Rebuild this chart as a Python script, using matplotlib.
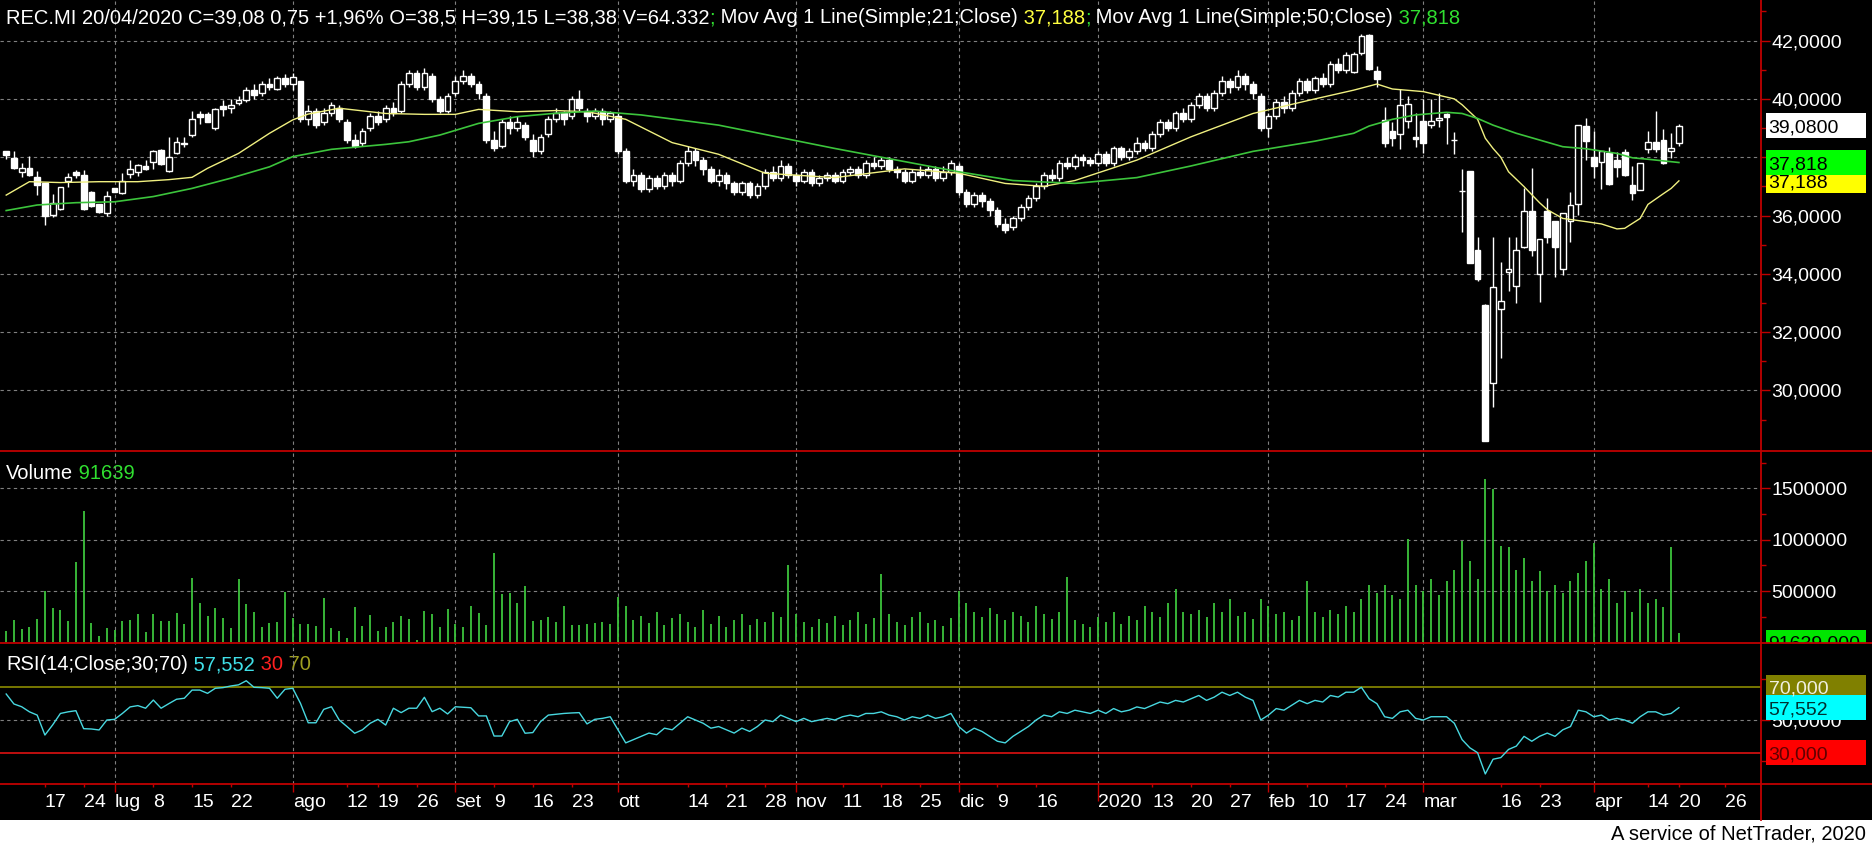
import numpy as np
import matplotlib
matplotlib.use('Agg')
import matplotlib.pyplot as plt
from matplotlib.patches import Rectangle
from matplotlib.lines import Line2D
from matplotlib.ticker import FixedLocator, FuncFormatter

plt.rcParams['font.family'] = ['Liberation Sans', 'DejaVu Sans']

# daily candles, REC.MI, 10/06/2019 .. 20/04/2020 (index = trading day)
opens = [38.2, 37.98, 37.5, 37.62, 37.31, 37.1, 36.02, 36.22, 37.18, 37.5,
         37.39, 36.8, 36.38, 36.08, 36.93, 36.78, 37.41, 37.5, 37.7, 37.83,
         38.25, 37.54, 38.13, 38.45, 38.76, 39.48, 39.48, 39.01, 39.76, 39.68,
         39.85, 39.95, 40.3, 40.2, 40.5, 40.35, 40.7, 40.5, 40.6, 39.3,
         39.6, 39.2, 39.5, 39.7, 39.2, 38.6, 38.5, 39.0, 39.4, 39.3,
         39.7, 39.6, 40.5, 40.9, 40.4, 40.8, 40.0, 39.6, 40.2, 40.6,
         40.8, 40.5, 40.1, 38.6, 38.4, 39.2, 39.0, 39.1, 38.6, 38.2,
         38.8, 39.3, 39.5, 39.4, 40.0, 39.6, 39.4, 39.6, 39.3, 39.4,
         38.2, 37.2, 37.4, 36.9, 37.3, 37.0, 37.4, 37.2, 37.8, 38.2,
         37.9, 37.6, 37.2, 37.4, 37.1, 36.8, 37.1, 36.7, 37.0, 37.5,
         37.3, 37.7, 37.4, 37.2, 37.5, 37.1, 37.3, 37.4, 37.2, 37.5,
         37.6, 37.4, 37.8, 37.7, 37.9, 37.6, 37.5, 37.2, 37.5, 37.4,
         37.6, 37.3, 37.5, 37.7, 36.8, 36.4, 36.7, 36.5, 36.2, 35.7,
         35.6, 35.9, 36.3, 36.6, 37.0, 37.4, 37.3, 37.8, 37.7, 38.0,
         37.9, 37.8, 38.1, 37.8, 38.3, 38.0, 38.2, 38.5, 38.3, 38.8,
         39.2, 39.0, 39.5, 39.3, 39.8, 40.1, 39.7, 40.2, 40.6, 40.4,
         40.8, 40.5, 40.1, 39.0, 39.4, 39.9, 39.7, 40.2, 40.6, 40.3,
         40.7, 40.5, 41.2, 41.0, 40.94, 41.56, 42.19, 40.97, 39.27, 38.9,
         38.78, 39.24, 38.69, 39.24, 39.12, 39.27, 39.47, 38.6, 36.83, 37.52,
         34.83, 32.93, 30.25, 32.78, 34.05, 33.59, 34.93, 36.14, 34.01, 36.15,
         35.81, 34.15, 35.82, 36.38, 39.07, 38.02, 37.82, 38.16, 37.9, 38.19,
         37.03, 36.86, 38.27, 38.51, 38.59, 38.21, 38.5]
highs = [38.22, 38.2, 37.79, 38.04, 37.53, 37.1, 36.74, 36.99, 37.45, 37.56,
         37.56, 36.85, 36.4, 36.84, 36.95, 37.45, 37.9, 37.75, 37.9, 38.25,
         38.27, 38.7, 38.7, 38.7, 39.6, 39.6, 39.55, 39.68, 39.95, 40.0,
         40.1, 40.4, 40.5, 40.6, 40.7, 40.8, 40.85, 40.9, 40.6, 39.8,
         39.7, 39.7, 39.9, 39.8, 39.3, 38.8, 39.0, 39.5, 39.6, 39.8,
         39.9, 40.6, 41.0, 41.0, 41.05, 40.9, 40.1, 40.2, 40.8, 41.0,
         40.9, 40.6, 40.2, 38.9, 39.3, 39.4, 39.4, 39.2, 38.8, 38.8,
         39.4, 39.7, 39.6, 40.1, 40.3, 39.7, 39.7, 39.7, 39.6, 39.5,
         38.3, 37.6, 37.5, 37.4, 37.4, 37.5, 37.5, 37.9, 38.4, 38.3,
         38.0, 37.7, 37.6, 37.5, 37.2, 37.2, 37.2, 37.1, 37.6, 37.7,
         37.9, 37.8, 37.5, 37.6, 37.6, 37.4, 37.5, 37.5, 37.6, 37.7,
         37.7, 37.9, 38.0, 38.0, 38.0, 37.7, 37.6, 37.6, 37.7, 37.7,
         37.7, 37.7, 37.9, 37.8, 36.9, 36.8, 36.8, 36.6, 36.3, 35.9,
         36.0, 36.4, 36.7, 37.1, 37.5, 37.6, 37.9, 38.0, 38.1, 38.1,
         38.0, 38.2, 38.2, 38.4, 38.4, 38.3, 38.7, 38.6, 38.9, 39.3,
         39.3, 39.6, 39.7, 39.9, 40.2, 40.2, 40.3, 40.8, 40.7, 41.0,
         40.9, 40.6, 40.2, 39.5, 40.0, 40.1, 40.3, 40.7, 40.7, 40.8,
         40.9, 41.3, 41.4, 41.6, 41.6, 42.23, 42.23, 41.13, 39.71, 39.22,
         40.34, 40.1, 39.52, 40.0, 40.0, 40.2, 39.52, 38.85, 37.6, 37.52,
         35.25, 32.95, 35.25, 34.39, 35.27, 35.25, 36.96, 37.64, 35.21, 36.59,
         35.81, 36.1, 36.79, 39.12, 39.34, 38.9, 38.21, 38.36, 38.19, 38.27,
         37.71, 37.79, 38.9, 39.58, 38.97, 38.82, 39.15]
lows = [37.95, 37.6, 37.31, 37.35, 36.7, 35.67, 35.95, 36.2, 36.99, 37.3,
        36.2, 36.3, 36.1, 35.98, 36.8, 36.75, 37.3, 37.35, 37.55, 37.6,
        37.74, 37.5, 38.1, 38.35, 38.7, 39.15, 39.2, 38.95, 39.4, 39.5,
        39.8, 39.9, 40.0, 40.1, 40.3, 40.3, 40.4, 40.3, 39.2, 39.1,
        39.0, 39.1, 39.4, 39.2, 38.5, 38.3, 38.4, 38.9, 39.1, 39.2,
        39.4, 39.5, 40.4, 40.3, 40.3, 39.9, 39.5, 39.5, 40.1, 40.5,
        40.4, 40.0, 38.5, 38.2, 38.3, 38.8, 38.9, 38.6, 38.0, 38.1,
        38.7, 39.2, 39.1, 39.3, 39.6, 39.2, 39.3, 39.1, 39.2, 38.1,
        37.1, 37.0, 36.8, 36.8, 36.9, 36.9, 37.0, 37.1, 37.7, 37.7,
        37.4, 37.1, 37.0, 36.9, 36.7, 36.7, 36.6, 36.6, 36.9, 37.2,
        37.2, 37.3, 37.0, 37.1, 37.0, 37.0, 37.2, 37.1, 37.1, 37.4,
        37.3, 37.3, 37.6, 37.6, 37.5, 37.3, 37.1, 37.1, 37.3, 37.3,
        37.2, 37.2, 37.4, 36.7, 36.3, 36.3, 36.3, 36.0, 35.6, 35.4,
        35.5, 35.8, 36.2, 36.5, 36.9, 37.2, 37.2, 37.6, 37.6, 37.7,
        37.7, 37.7, 37.7, 37.7, 37.9, 37.9, 38.1, 38.2, 38.2, 38.7,
        38.9, 38.9, 39.2, 39.2, 39.7, 39.6, 39.6, 40.1, 40.2, 40.3,
        40.3, 40.0, 38.9, 38.7, 39.3, 39.5, 39.6, 40.1, 40.2, 40.2,
        40.4, 40.4, 40.9, 40.9, 40.9, 41.5, 41.0, 40.42, 38.36, 38.38,
        38.28, 39.0, 38.36, 38.13, 39.0, 39.05, 38.44, 38.1, 35.44, 34.37,
        33.76, 28.28, 29.43, 31.12, 33.4, 33.0, 34.9, 34.6, 33.04, 35.04,
        33.88, 33.96, 35.1, 36.02, 37.9, 37.3, 36.9, 37.03, 37.33, 37.35,
        36.52, 36.86, 38.15, 38.19, 37.75, 37.96, 38.38]
closes = [38.06, 37.64, 37.62, 37.4, 37.05, 35.98, 36.42, 36.97, 37.31, 37.4,
          36.22, 36.33, 36.13, 36.66, 36.82, 37.17, 37.59, 37.73, 37.6, 38.22,
          37.76, 38.0, 38.51, 38.5, 39.3, 39.37, 39.22, 39.64, 39.64, 39.79,
          39.95, 40.3, 40.15, 40.5, 40.4, 40.7, 40.5, 40.75, 39.3, 39.6,
          39.1, 39.5, 39.8, 39.3, 38.6, 38.4, 38.9, 39.4, 39.2, 39.7,
          39.5, 40.5, 40.9, 40.4, 40.9, 40.0, 39.6, 40.1, 40.6, 40.8,
          40.5, 40.2, 38.6, 38.3, 39.2, 39.0, 39.2, 38.7, 38.2, 38.7,
          39.3, 39.5, 39.3, 40.0, 39.7, 39.4, 39.6, 39.3, 39.5, 38.2,
          37.2, 37.4, 36.9, 37.3, 37.0, 37.4, 37.2, 37.8, 38.2, 37.9,
          37.6, 37.2, 37.4, 37.1, 36.8, 37.1, 36.7, 37.0, 37.5, 37.3,
          37.7, 37.4, 37.2, 37.5, 37.1, 37.3, 37.4, 37.2, 37.5, 37.6,
          37.4, 37.8, 37.7, 37.9, 37.6, 37.5, 37.2, 37.5, 37.4, 37.6,
          37.3, 37.5, 37.8, 36.8, 36.4, 36.7, 36.5, 36.2, 35.7, 35.5,
          35.9, 36.3, 36.6, 37.0, 37.4, 37.3, 37.8, 37.7, 38.0, 37.9,
          37.8, 38.1, 37.8, 38.3, 38.0, 38.2, 38.5, 38.3, 38.8, 39.2,
          39.0, 39.5, 39.3, 39.8, 40.1, 39.7, 40.2, 40.6, 40.4, 40.8,
          40.5, 40.2, 39.0, 39.4, 39.9, 39.7, 40.2, 40.6, 40.3, 40.7,
          40.5, 41.2, 41.0, 41.5, 41.53, 42.16, 41.01, 40.67, 38.5, 38.67,
          39.78, 39.81, 38.62, 38.5, 39.24, 39.33, 39.39, 38.6, 36.83, 34.37,
          33.82, 28.28, 33.54, 33.08, 34.15, 34.81, 36.14, 34.81, 35.21, 35.27,
          34.93, 36.1, 36.36, 39.12, 38.56, 37.71, 38.21, 37.08, 37.68, 37.39,
          36.77, 37.79, 38.51, 38.28, 37.79, 38.33, 39.08]

# volume in thousands of shares
volumes_k = [115, 218, 131, 154, 228, 503, 332, 316, 209, 778,
             1277, 193, 63, 138, 121, 209, 218, 277, 105, 277,
             209, 209, 283, 180, 623, 387, 257, 332, 235, 138,
             617, 374, 296, 154, 193, 202, 493, 235, 180, 176,
             163, 435, 138, 112, 41, 348, 160, 267, 115, 154,
             202, 257, 225, 24, 306, 277, 148, 325, 180, 148,
             354, 283, 170, 866, 471, 484, 380, 549, 209, 218,
             245, 202, 354, 170, 170, 176, 186, 200, 180, 440,
             350, 220, 260, 190, 300, 170, 240, 280, 200, 150,
             320, 180, 260, 150, 220, 280, 170, 230, 200, 300,
             250, 756, 280, 200, 150, 230, 190, 260, 170, 220,
             300, 180, 240, 663, 280, 200, 170, 250, 300, 190,
             220, 160, 240, 500, 380, 300, 250, 330, 280, 220,
             300, 260, 200, 350, 280, 230, 300, 640, 220, 180,
             150, 250, 200, 300, 180, 260, 220, 350, 300, 250,
             380, 523, 300, 280, 320, 250, 380, 300, 420, 260,
             300, 230, 420, 350, 280, 300, 220, 260, 593, 300,
             250, 320, 280, 350, 300, 420, 560, 480, 560, 460,
             420, 1010, 560, 500, 620, 460, 600, 700, 988, 790,
             620, 1590, 1490, 942, 930, 700, 826, 600, 698, 500,
             558, 480, 600, 674, 790, 965, 520, 616, 380, 500,
             300, 523, 380, 419, 349, 930, 91.639]

rsi = [65.9, 59.8, 58.1, 55.0, 53.0, 40.8, 47.0, 54.0, 55.0, 55.7,
       44.7, 44.5, 43.9, 50.0, 50.4, 54.0, 58.0, 58.8, 57.2, 62.2,
       57.2, 60.0, 62.7, 63.3, 68.3, 68.3, 66.3, 69.4, 69.8, 70.8,
       71.5, 74.0, 70.0, 69.8, 69.4, 63.3, 68.8, 69.4, 60.2, 48.3,
       48.3, 56.5, 58.1, 50.0, 46.0, 41.9, 44.0, 48.0, 50.4, 46.9,
       57.2, 54.5, 57.2, 57.2, 63.9, 55.1, 57.2, 53.7, 58.1, 57.8,
       57.5, 52.5, 52.5, 40.2, 40.2, 49.0, 50.4, 41.9, 42.3, 49.0,
       53.0, 53.5, 54.0, 54.3, 54.5, 47.6, 50.4, 51.0, 52.0, 44.0,
       36.0, 38.0, 40.0, 42.0, 41.0, 45.0, 44.0, 48.0, 52.0, 50.0,
       48.0, 45.0, 46.0, 44.0, 42.0, 45.0, 43.0, 46.0, 50.0, 49.0,
       53.0, 51.0, 49.0, 51.0, 49.0, 50.0, 51.0, 50.0, 52.0, 53.0,
       52.0, 54.0, 54.0, 55.0, 53.0, 52.0, 50.0, 52.0, 51.0, 53.0,
       51.0, 52.0, 54.0, 46.0, 42.0, 45.0, 43.0, 40.0, 37.0, 36.0,
       40.0, 43.0, 46.0, 50.0, 53.0, 52.0, 55.0, 54.0, 56.0, 55.0,
       54.0, 56.0, 54.0, 57.0, 55.0, 56.0, 58.0, 57.0, 59.0, 61.0,
       60.0, 62.0, 61.0, 63.0, 65.0, 62.0, 64.0, 67.0, 65.0, 67.0,
       64.0, 62.0, 50.0, 53.0, 57.0, 56.0, 59.0, 62.0, 60.0, 62.0,
       61.0, 65.0, 64.0, 67.0, 67.0, 70.0, 63.0, 60.0, 52.0, 51.0,
       55.0, 56.0, 51.0, 50.0, 52.0, 52.0, 52.0, 48.0, 38.0, 33.0,
       30.0, 17.0, 26.0, 27.0, 32.0, 34.0, 40.0, 37.0, 40.0, 42.0,
       40.0, 44.0, 46.0, 56.0, 55.0, 52.0, 53.0, 50.0, 51.0, 50.0,
       48.0, 52.0, 55.0, 55.0, 53.0, 54.0, 57.552]
rsi_levels = [30, 70]

# moving averages read at sample days
ma21_idx = [0, 3, 7, 12, 17, 21, 24, 26, 30, 34, 37, 39, 43, 49, 54, 58, 61, 66, 71, 75,
            80, 86, 92, 98, 107, 116, 123, 129, 134, 138, 146, 153, 161, 169, 174, 177, 179,
            183, 187, 188, 190, 191, 192, 193, 194, 196, 198, 199, 201, 204, 206, 208, 209,
            211, 212, 214, 215, 216]
ma21_val = [36.7, 37.16, 37.13, 37.16, 37.16, 37.23, 37.31, 37.62, 38.13, 38.82, 39.28, 39.48,
            39.68, 39.5, 39.47, 39.47, 39.64, 39.56, 39.6, 39.56, 39.3, 38.5, 38.1, 37.45, 37.3,
            37.6, 37.45, 37.1, 37.0, 37.2, 37.9, 38.7, 39.5, 40.0, 40.3, 40.51, 40.34, 40.25,
            40.0, 39.8, 39.3, 38.65, 38.3, 38.0, 37.5, 36.99, 36.44, 36.2, 35.9, 35.79, 35.71,
            35.54, 35.56, 35.9, 36.38, 36.75, 36.93, 37.188]
ma50_idx = [0, 4, 9, 14, 19, 24, 29, 34, 37, 42, 49, 52, 56, 61, 66, 71, 76, 82, 92, 107,
            123, 130, 138, 146, 153, 161, 169, 174, 176, 179, 182, 186, 188, 190, 192, 195,
            198, 201, 204, 208, 210, 212, 216]
ma50_val = [36.17, 36.36, 36.44, 36.47, 36.65, 36.93, 37.28, 37.67, 38.02, 38.27, 38.44, 38.53,
            38.76, 39.16, 39.39, 39.51, 39.58, 39.45, 39.1, 38.3, 37.5, 37.2, 37.1, 37.3, 37.7,
            38.2, 38.55, 38.82, 39.07, 39.3, 39.45, 39.54, 39.5, 39.33, 39.1, 38.82, 38.59,
            38.36, 38.29, 38.13, 37.98, 37.93, 37.818]

month_pos = [14, 37, 58, 79, 102, 123, 141, 163, 183, 205]
month_lab = ['lug', 'ago', 'set', 'ott', 'nov', 'dic', '2020', 'feb', 'mar', 'apr']
week_pos = [5, 10, 19, 24, 29, 44, 48, 53, 63, 68, 73, 88, 93, 98, 108, 113, 118,
            128, 133, 148, 153, 158, 168, 173, 178, 193, 198, 212, 216, 222]
week_lab = ['17', '24', '8', '15', '22', '12', '19', '26', '9', '16', '23', '14', '21',
            '28', '11', '18', '25', '9', '16', '13', '20', '27', '10', '17', '24', '16',
            '23', '14', '20', '26']

W, H = 1872, 844
RED = '#c00000'
GRID = '#808080'
FS = 14      # scale / axis labels
HFS = 14.5   # panel headers

fig = plt.figure(figsize=(W / 100, H / 100), dpi=100)
fig.patch.set_facecolor('white')
fig.add_artist(Rectangle((0, 24 / H), 1, 1 - 24 / H, transform=fig.transFigure,
                         facecolor='black', edgecolor='none', zorder=-5))


def px_axes(x0, y0, x1, y1, **kw):
    ax = fig.add_axes([x0 / W, 1 - y1 / H, (x1 - x0) / W, (y1 - y0) / H], **kw)
    ax.set_facecolor('none')
    for s in ax.spines.values():
        s.set_visible(False)
    return ax


PX = 1761
ax_p = px_axes(0, 0, PX, 451)
ax_v = px_axes(0, 451, PX, 642.7, sharex=ax_p)
ax_r = px_axes(0, 642.7, PX, 784.3, sharex=ax_p)

idx = np.arange(len(closes))
o = np.array(opens)
c = np.array(closes)
up = c >= o

# candles: hollow = up day, filled = down day
ax_p.vlines(idx, lows, highs, color='white', lw=1, zorder=2)
ax_p.bar(idx, np.abs(c - o), bottom=np.minimum(o, c), width=0.74,
         color=np.where(up, 'black', 'white'), edgecolor='white', linewidth=1, zorder=3)
ax_p.plot(ma21_idx, ma21_val, color='#f0f080', lw=1, zorder=4)
ax_p.plot(ma50_idx, ma50_val, color='#3cc43c', lw=1.2, zorder=4)

# volume
ax_v.vlines(idx, 0, np.array(volumes_k) * 1000, color='#3cc43c', lw=1.3, zorder=2)

# rsi
ax_r.plot(idx, rsi, color='#48d8e0', lw=1, zorder=3)
ax_r.axhline(rsi_levels[1], color='#808000', lw=1.3, zorder=2)
ax_r.axhline(rsi_levels[0], color='#cc1010', lw=1.3, zorder=2)

ax_p.set_xlim(-0.8, 226.6)
ax_p.set_ylim(27.921, 43.393)
ax_v.set_ylim(-3000, 1.863e6)
ax_r.set_ylim(10.67, 97.28)

ax_p.yaxis.set_major_locator(FixedLocator(np.arange(30, 43, 2)))
ax_p.yaxis.set_minor_locator(FixedLocator(np.arange(29, 44, 2)))
ax_p.yaxis.set_major_formatter(FuncFormatter(lambda v, p: f'{v:.4f}'.replace('.', ',')))
ax_v.yaxis.set_major_locator(FixedLocator([500000, 1000000, 1500000]))
ax_v.yaxis.set_minor_locator(FixedLocator([250000, 750000, 1250000, 1750000]))
ax_v.yaxis.set_major_formatter(FuncFormatter(lambda v, p: f'{int(v)}'))
ax_r.yaxis.set_major_locator(FixedLocator([50]))
ax_r.yaxis.set_minor_locator(FixedLocator([25, 75]))
ax_r.yaxis.set_major_formatter(FuncFormatter(lambda v, p: f'{v:.4f}'.replace('.', ',')))

ax_r.set_xticks(month_pos, month_lab)
ax_r.set_xticks(week_pos, week_lab, minor=True)

for ax in (ax_p, ax_v, ax_r):
    ax.yaxis.tick_right()
    ax.tick_params(axis='y', which='both', colors=RED, labelcolor='white',
                   labelsize=FS, width=1, pad=1.5)
    ax.tick_params(axis='y', which='major', length=6.2)
    ax.tick_params(axis='y', which='minor', length=3.4)
    ax.grid(True, which='major', color=GRID, ls=(0, (3, 3)), lw=0.8)
    ax.set_axisbelow(True)
for ax in (ax_p, ax_v):
    ax.tick_params(axis='x', which='both', length=0, labelbottom=False)

ax_r.tick_params(axis='x', which='both', colors=RED, labelcolor='white',
                 labelsize=FS, width=1)
ax_r.tick_params(axis='x', which='major', length=6.1, pad=0.9)
ax_r.tick_params(axis='x', which='minor', length=2.2, pad=5)
for lbl in ax_r.get_xticklabels(which='both'):
    lbl.set_horizontalalignment('left')
ax_r.xaxis.get_major_ticks()[6].tick1line.set_markersize(12)


# value boxes on the right scale
def label_axes(y0, y1, ylim):
    la = px_axes(PX, y0, W, y1)
    la.set_xlim(0, 1)
    la.set_ylim(*ylim)
    la.axis('off')
    return la


def value_box(la, yval, text, face, tcolor, ppx):
    h = 25 * ppx
    la.add_patch(Rectangle((5 / 111, yval - h / 2), 100 / 111, h, facecolor=face,
                           edgecolor='none', zorder=3))
    la.text(7.5 / 111, yval, text, color=tcolor, fontsize=FS, va='center_baseline',
            ha='left', clip_on=True, zorder=4)


la_p = label_axes(0, 451, ax_p.get_ylim())
la_v = label_axes(451, 642.7, ax_v.get_ylim())
la_r = label_axes(642.7, 784.3, ax_r.get_ylim())
pp = (43.393 - 27.921) / 451
pv = (1.863e6 + 3000) / 191.7
pr = (97.28 - 10.67) / 141.6
value_box(la_p, 39.08, '39,0800', 'white', 'black', pp)
value_box(la_p, 37.188, '37,188', '#ffff00', 'black', pp)
value_box(la_p, 37.818, '37,818', '#00ff00', 'black', pp)
value_box(la_v, 0, '91639,000', '#00e600', 'black', pv)
value_box(la_r, 70, '70,000', '#808000', '#f0f0e0', pr)
value_box(la_r, 57.552, '57,552', '#00ffff', '#003030', pr)
value_box(la_r, 30, '30,000', '#ff0000', '#600000', pr)

# panel borders
fig.add_artist(Line2D([PX / W, PX / W], [24 / H, 1], color=RED, lw=1.3,
                      transform=fig.transFigure))
for yy in (451, 642.7, 784.3):
    fig.add_artist(Line2D([0, 1], [1 - yy / H, 1 - yy / H], color=RED, lw=1.3,
                          transform=fig.transFigure))


def colored_line(x_px, y_px, parts):
    t = ax_p.annotate(parts[0][0], xy=(x_px, H - y_px), xycoords='figure pixels',
                      color=parts[0][1], fontsize=HFS, va='bottom', ha='left',
                      annotation_clip=False)
    for s, col in parts[1:]:
        t = ax_p.annotate(s, xy=(1, 0), xycoords=t, color=col, fontsize=HFS,
                          va='bottom', ha='left', annotation_clip=False)


colored_line(6, 27, [('REC.MI 20/04/2020 C=39,08 0,75 +1,96% O=38,5 H=39,15 L=38,38 V=64.332', 'white'),
                     (';', '#30e030'),
                     (' Mov Avg 1 Line(Simple;21;Close)', 'white'),
                     (' 37,188', '#ffff40'),
                     (';', '#30e030'),
                     (' Mov Avg 1 Line(Simple;50;Close)', 'white'),
                     (' 37,818', '#30e030')])
colored_line(6, 483, [('Volume', 'white'), (' 91639', '#30e030')])
colored_line(6, 674.5, [('RSI(14;Close;30;70)', 'white'), (' 57,552', '#40e0e8'),
                        (' 30', '#ff2020'), (' 70', '#a0a020')])

fig.text(1866 / W, 1 - 840 / H, 'A service of NetTrader, 2020', ha='right',
         va='baseline', color='black', fontsize=14.5)

fig.savefig('out.png', dpi=100, facecolor=fig.get_facecolor())
